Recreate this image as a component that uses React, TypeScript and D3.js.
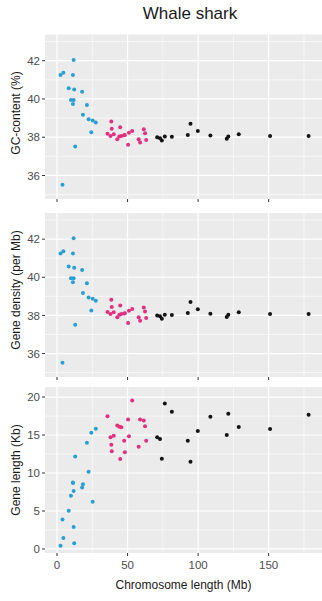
import React from "react";
import * as d3 from "d3";

// ---- Data ----
const title = "Whale shark";
const xTitle = "Chromosome length (Mb)";

// chromosome lengths (Mb) per size group
const shortLengths = [2.5, 3.9, 4.5, 8.3, 9.9, 11.3, 11.3, 11.8, 11.8, 12.2, 12.9, 17.8, 18.4, 21.2, 22.4, 24.3, 25.3, 27.5];
const mediumLengths = [35.8, 37.9, 38.5, 38.8, 40.2, 42.7, 44.2, 44.8, 45.6, 47.6, 48.1, 50.4, 51.0, 53.3, 57.9, 58.9, 61.5, 62.4, 63.2];
const longLengths = [71, 73, 74.3, 76.4, 81.4, 92.7, 94.6, 99.8, 108.7, 120.3, 121.4, 128.8, 151, 178.3];

// GC-content (%)
const gcShort = [41.25, 35.52, 41.37, 40.56, 39.95, 41.25, 39.74, 42.04, 39.95, 40.5, 37.51, 40.38, 39.17, 39.69, 38.94, 38.26, 38.87, 38.77];
const gcMedium = [38.18, 38.07, 38.82, 38.44, 38.16, 37.9, 38.04, 38.52, 38.07, 38.1, 38.11, 37.6, 38.24, 38.33, 37.9, 37.72, 38.42, 38.21, 37.86];
const gcLong = [38.0, 37.95, 37.83, 38.04, 38.02, 38.12, 38.7, 38.32, 38.09, 37.92, 38.04, 38.16, 38.07, 38.07];

// Gene density (per Mb) — as shown in the reference
const densityShort = [41.25, 35.52, 41.37, 40.56, 39.95, 41.25, 39.74, 42.04, 39.95, 40.5, 37.51, 40.38, 39.17, 39.69, 38.94, 38.26, 38.87, 38.77];
const densityMedium = [38.18, 38.07, 38.82, 38.44, 38.16, 37.9, 38.04, 38.52, 38.07, 38.1, 38.11, 37.6, 38.24, 38.33, 37.9, 37.72, 38.42, 38.21, 37.86];
const densityLong = [38.0, 37.95, 37.83, 38.04, 38.02, 38.12, 38.7, 38.32, 38.09, 37.92, 38.04, 38.16, 38.07, 38.07];

// Gene length (Kb)
const lengthShort = [0.44, 3.88, 1.46, 5.03, 7.02, 8.74, 8.7, 2.9, 7.63, 0.74, 12.18, 8.08, 8.52, 13.99, 10.15, 15.31, 6.22, 15.84];
const lengthMedium = [17.48, 14.7, 13.72, 12.85, 14.91, 16.24, 16.1, 11.83, 16.03, 14.26, 12.72, 17.03, 14.83, 19.55, 13.46, 17.03, 16.9, 16.16, 14.26];
const lengthLong = [14.7, 14.48, 11.87, 19.15, 18.05, 14.26, 11.47, 15.54, 17.39, 15.0, 17.79, 16.07, 15.8, 17.66];

// tick values
const xMajorTicks = [0, 50, 100, 150];
const xMinorTicks = [25, 75, 125, 175];
const pctMajorTicks = [36, 38, 40, 42];
const pctMinorTicks = [35, 37, 39, 41, 43];
const kbMajorTicks = [0, 5, 10, 15, 20];
const kbMinorTicks = [2.5, 7.5, 12.5, 17.5];

const COLORS = { short: "#2a9fd2", medium: "#e2307f", long: "#141414" };

const LEFT = 45;
const RIGHT = 322;
const FONT = "'Liberation Sans', Arial, sans-serif";

const x = d3.scaleLinear().domain([-8.5, 187.8]).range([LEFT, RIGHT]);

type PanelDef = {
  label: string;
  labelY: number;
  top: number;
  bottom: number;
  domain: [number, number];
  major: number[];
  minor: number[];
  series: { xs: number[]; ys: number[]; color: string }[];
  showXLabels: boolean;
};

const panels: PanelDef[] = [
  {
    label: "GC-content (%)",
    labelY: 113,
    top: 34.5,
    bottom: 199,
    domain: [34.77, 43.37],
    major: pctMajorTicks,
    minor: pctMinorTicks,
    series: [
      { xs: shortLengths, ys: gcShort, color: COLORS.short },
      { xs: mediumLengths, ys: gcMedium, color: COLORS.medium },
      { xs: longLengths, ys: gcLong, color: COLORS.long },
    ],
    showXLabels: false,
  },
  {
    label: "Gene density (per Mb)",
    labelY: 290,
    top: 213,
    bottom: 377,
    domain: [34.77, 43.37],
    major: pctMajorTicks,
    minor: pctMinorTicks,
    series: [
      { xs: shortLengths, ys: densityShort, color: COLORS.short },
      { xs: mediumLengths, ys: densityMedium, color: COLORS.medium },
      { xs: longLengths, ys: densityLong, color: COLORS.long },
    ],
    showXLabels: false,
  },
  {
    label: "Gene length (Kb)",
    labelY: 470,
    top: 387,
    bottom: 553,
    domain: [-0.53, 21.32],
    major: kbMajorTicks,
    minor: kbMinorTicks,
    series: [
      { xs: shortLengths, ys: lengthShort, color: COLORS.short },
      { xs: mediumLengths, ys: lengthMedium, color: COLORS.medium },
      { xs: longLengths, ys: lengthLong, color: COLORS.long },
    ],
    showXLabels: true,
  },
];

function Panel({ p }: { p: PanelDef }) {
  const y = d3.scaleLinear().domain(p.domain).range([p.bottom, p.top]);
  return (
    <g>
      <rect x={LEFT} y={p.top} width={RIGHT - LEFT} height={p.bottom - p.top} fill="#EBEBEB" />
      {p.minor.map((v) => (
        <line key={"ym" + v} x1={LEFT} x2={RIGHT} y1={y(v)} y2={y(v)} stroke="#fff" strokeWidth={0.6} />
      ))}
      {xMinorTicks.map((v) => (
        <line key={"xm" + v} x1={x(v)} x2={x(v)} y1={p.top} y2={p.bottom} stroke="#fff" strokeWidth={0.6} />
      ))}
      {p.major.map((v) => (
        <line key={"yM" + v} x1={LEFT} x2={RIGHT} y1={y(v)} y2={y(v)} stroke="#fff" strokeWidth={1.2} />
      ))}
      {xMajorTicks.map((v) => (
        <line key={"xM" + v} x1={x(v)} x2={x(v)} y1={p.top} y2={p.bottom} stroke="#fff" strokeWidth={1.2} />
      ))}
      {p.series.map((s, si) =>
        s.xs.map((xv, i) => (
          <circle key={si + "-" + i} cx={x(xv)} cy={y(s.ys[i])} r={2} fill={s.color} />
        ))
      )}
      {/* y ticks */}
      {p.major.map((v) => (
        <g key={"yt" + v}>
          <line x1={LEFT - 3} x2={LEFT} y1={y(v)} y2={y(v)} stroke="#333" strokeWidth={1} />
          <text
            x={LEFT - 5}
            y={y(v)}
            dy="0.36em"
            textAnchor="end"
            fontSize={11.5}
            fill="#4D4D4D"
            fontFamily={FONT}
          >
            {v}
          </text>
        </g>
      ))}
      {/* x ticks */}
      {xMajorTicks.map((v) => (
        <g key={"xt" + v}>
          <line x1={x(v)} x2={x(v)} y1={p.bottom} y2={p.bottom + 3} stroke="#333" strokeWidth={1} />
          {p.showXLabels && (
            <text
              x={x(v)}
              y={p.bottom + 15.5}
              textAnchor="middle"
              fontSize={11.5}
              fill="#4D4D4D"
              fontFamily={FONT}
            >
              {v}
            </text>
          )}
        </g>
      ))}
      <text
        transform={`translate(19.5,${p.labelY}) rotate(-90)`}
        textAnchor="middle"
        fontSize={12}
        fill="#1a1a1a"
        fontFamily={FONT}
      >
        {p.label}
      </text>
    </g>
  );
}

export default function App() {
  return (
    <svg
      width={322}
      height={601}
      style={{ position: "absolute", left: 0, top: 0, background: "#fff" }}
    >
      <rect x={0} y={0} width={322} height={601} fill="#fff" />
      <text x={190} y={18.5} textAnchor="middle" fontSize={17} fill="#1a1a1a" fontFamily={FONT}>
        {title}
      </text>
      {panels.map((p) => (
        <Panel key={p.label} p={p} />
      ))}
      <text
        x={(LEFT + RIGHT) / 2}
        y={589}
        textAnchor="middle"
        fontSize={12}
        fill="#1a1a1a"
        fontFamily={FONT}
      >
        {xTitle}
      </text>
    </svg>
  );
}
